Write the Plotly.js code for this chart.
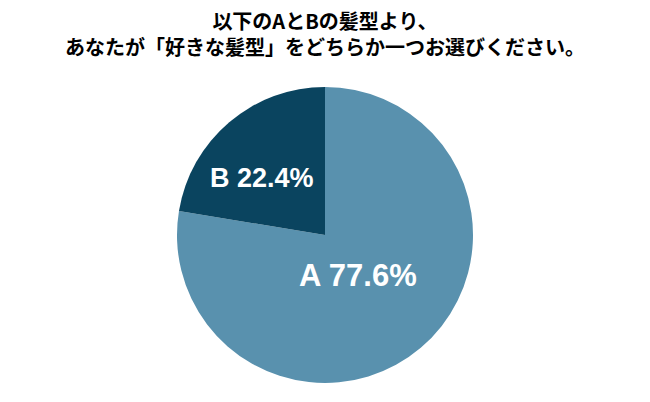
<!DOCTYPE html>
<html><head><meta charset="utf-8">
<script src="https://cdn.plot.ly/plotly-3.0.1.min.js"></script>
<style>html,body{margin:0;padding:0;background:#fff}</style>
</head><body>
<div id="chart" style="width:650px;height:402px"></div>
<script>
const categories = ['A', 'B'];
const values = [77.6, 22.4];
const colors = ['#5991ae', '#0a445f'];
const titleLines = ['以下のAとBの髪型より、', 'あなたが「好きな髪型」をどちらか一つお選びください。'];

const W = 650, H = 402;
const cx = 325, cy = 235, r = 148;
const labelPos = [{x: 358, y: 275, size: 31}, {x: 262, y: 178, size: 27}];
const titleCenterY = 34;

const data = [{
  type: 'pie',
  labels: categories,
  values: values,
  sort: false,
  direction: 'clockwise',
  rotation: 0,
  marker: {colors: colors, line: {width: 0}},
  textinfo: 'none',
  hoverinfo: 'none',
  domain: {x: [(cx - r) / W, (cx + r) / W], y: [1 - (cy + r) / H, 1 - (cy - r) / H]}
}];

const annotations = categories.map((c, i) => ({
  text: '<b>' + c + ' ' + values[i].toFixed(1) + '%</b>',
  x: labelPos[i].x / W, y: 1 - labelPos[i].y / H,
  xref: 'paper', yref: 'paper', showarrow: false,
  xanchor: 'center', yanchor: 'middle',
  font: {family: 'Liberation Sans, Arial, sans-serif', size: labelPos[i].size, color: '#ffffff'}
}));
annotations.push({
  text: '<b>' + titleLines.join('<br>') + '</b>',
  x: 0.5, y: 1 - titleCenterY / H,
  xref: 'paper', yref: 'paper', showarrow: false,
  xanchor: 'center', yanchor: 'middle', align: 'center',
  font: {family: 'Noto Sans CJK JP, sans-serif', size: 20, color: '#000000'}
});

const layout = {
  width: W, height: H,
  margin: {l: 0, r: 0, t: 0, b: 0},
  paper_bgcolor: '#ffffff',
  showlegend: false,
  annotations: annotations
};

Plotly.newPlot('chart', data, layout, {displayModeBar: false, staticPlot: true});
</script>
</body></html>
